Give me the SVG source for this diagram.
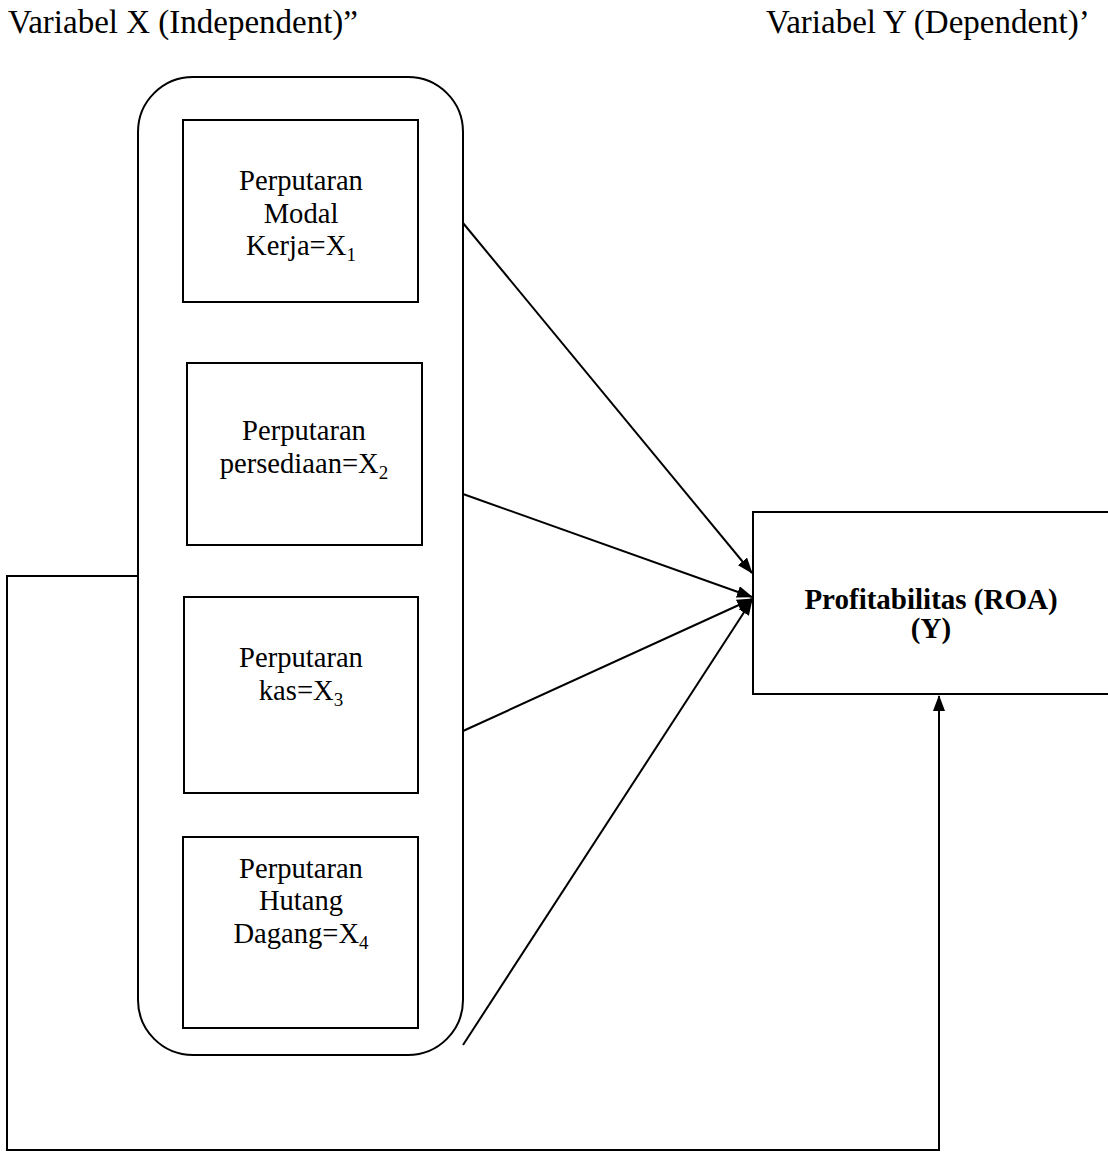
<svg xmlns="http://www.w3.org/2000/svg" width="1108" height="1153" viewBox="0 0 1108 1153">
<style>
.t{font-family:"Liberation Serif","Times New Roman",serif;fill:#000;}
.h{font-size:33px;}
.b{font-size:28.6px;text-anchor:middle;}
.bold{font-size:29px;font-weight:bold;text-anchor:middle;}
.box{fill:#fff;stroke:#000;stroke-width:2;}
.ln{fill:none;stroke:#000;stroke-width:2;}
</style>
<defs>
<marker id="ahl" viewBox="0 0 16 12" markerWidth="16" markerHeight="12" refX="15" refY="6" orient="auto" markerUnits="userSpaceOnUse">
<path d="M0,0 L16,6 L0,12 Z" fill="#000"/>
</marker>
</defs>
<rect width="1108" height="1153" fill="#fff"/>
<text class="t h" x="8" y="33">Variabel X (Independent)”</text>
<text class="t h" x="766" y="33">Variabel Y (Dependent)’</text>

<g id="group-x">
<rect class="box" x="138" y="77" width="325" height="978" rx="55" ry="55"/>
</g>
<g id="x1">
<rect class="box" x="183" y="120" width="235" height="182"/>
<text class="t b" x="301" y="190">Perputaran</text>
<text class="t b" x="301" y="223">Modal</text>
<text class="t b" x="301" y="255">Kerja=X<tspan font-size="19" dy="6">1</tspan></text>
</g>
<g id="x2">
<rect class="box" x="187" y="363" width="235" height="182"/>
<text class="t b" x="304" y="440">Perputaran</text>
<text class="t b" x="304" y="473">persediaan=X<tspan font-size="19" dy="6">2</tspan></text>
</g>
<g id="x3">
<rect class="box" x="184" y="597" width="234" height="196"/>
<text class="t b" x="301" y="667">Perputaran</text>
<text class="t b" x="301" y="700">kas=X<tspan font-size="19" dy="6">3</tspan></text>
</g>
<g id="x4">
<rect class="box" x="183" y="837" width="235" height="191"/>
<text class="t b" x="301" y="878">Perputaran</text>
<text class="t b" x="301" y="910">Hutang</text>
<text class="t b" x="301" y="943">Dagang=X<tspan font-size="19" dy="6">4</tspan></text>
</g>
<g id="y">
<rect class="box" x="753" y="512" width="356" height="182"/>
<text class="t bold" x="931" y="609">Profitabilitas (ROA)</text>
<text class="t bold" x="931" y="638">(Y)</text>
</g>
<g id="connectors">
<line class="ln" x1="463" y1="223" x2="752" y2="573" marker-end="url(#ahl)"/>
<line class="ln" x1="463" y1="494" x2="752" y2="597" marker-end="url(#ahl)"/>
<line class="ln" x1="463" y1="731" x2="752" y2="599" marker-end="url(#ahl)"/>
<line class="ln" x1="463" y1="1045" x2="752" y2="600" marker-end="url(#ahl)"/>
<polyline class="ln" points="138,576 7,576 7,1150 939,1150 939,696" marker-end="url(#ahl)"/>
</g>
</svg>
